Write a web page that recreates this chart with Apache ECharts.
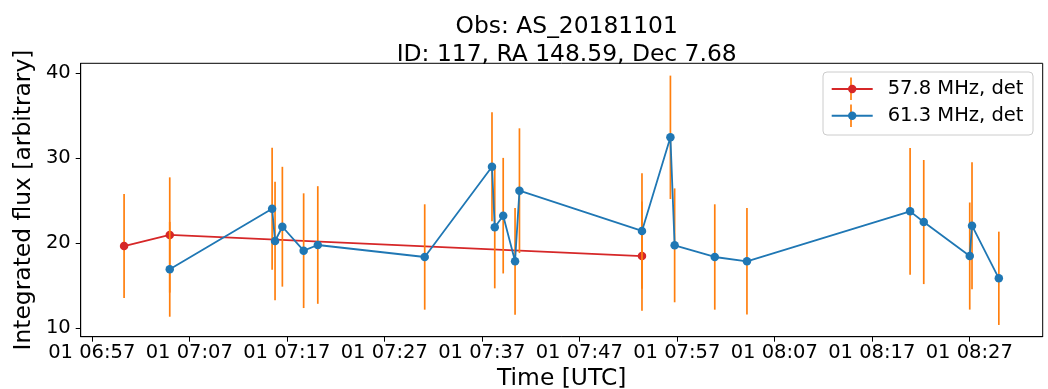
<!DOCTYPE html>
<html>
<head>
<meta charset="utf-8">
<style>
  html, body { margin: 0; padding: 0; background: #fff; }
  #chart { width: 1048px; height: 389px; }
</style>
<script src="https://cdn.jsdelivr.net/npm/echarts@6/dist/echarts.min.js"></script>
</head>
<body>
<div id="chart"></div>
<script>
// Light curve of source 117 in observation AS_20181101 (UTC, 2018-11-01)
const obsDate = [2018, 10, 1];

// 57.8 MHz detections
const timesA = ["07:00:19", "07:05:00", "07:53:26"];
const fluxA  = [19.68, 20.98, 18.50];
const errA   = [6.12, 6.78, 6.43];

// 61.3 MHz detections
const timesB = ["07:05:00", "07:15:30", "07:15:48", "07:16:33", "07:18:44", "07:20:11",
                "07:31:09", "07:38:03", "07:38:20", "07:39:12", "07:40:25", "07:40:52",
                "07:53:26", "07:56:21", "07:56:47", "08:00:54", "08:04:12", "08:20:56",
                "08:22:20", "08:27:03", "08:27:17", "08:30:02"];
const fluxB  = [16.94, 24.07, 20.27, 21.95, 19.13, 19.80,
                18.39, 29.01, 21.88, 23.25, 17.88, 26.19,
                21.45, 32.47, 19.76, 18.39, 17.88, 23.76,
                22.50, 18.50, 22.07, 15.88];
const errB   = [5.58, 7.18, 6.96, 7.05, 6.75, 6.92,
                6.20, 6.41, 7.18, 6.80, 6.28, 7.34,
                6.79, 7.26, 6.70, 6.20, 6.27, 7.45,
                7.30, 6.30, 7.47, 5.49];

const seriesNames = ["57.8 MHz, det", "61.3 MHz, det"];

// Axis ticks and view range
const xTickTimes = ["06:57", "07:07", "07:17", "07:27", "07:37", "07:47", "07:57", "08:07", "08:17", "08:27"];
const yTicks = [10, 20, 30, 40];
const xRange = ["06:55:52", "08:34:32"];
const yRange = [9.01, 41.18];

function toMs(hms) {
  const p = hms.split(":").map(Number);
  return Date.UTC(obsDate[0], obsDate[1], obsDate[2], p[0], p[1], p[2] || 0);
}
function pad(n) { return String(n).padStart(2, "0"); }
function fmtTick(v) {
  const d = new Date(v);
  return pad(d.getUTCDate()) + " " + pad(d.getUTCHours()) + ":" + pad(d.getUTCMinutes());
}

const FONT = "DejaVu Sans";
const RED = "#d62728", BLUE = "#1f77b4", ORANGE = "#ff7f0e";

function lineData(times, flux) { return times.map((t, i) => [toMs(t), flux[i]]); }
function errData(times, flux, err) { return times.map((t, i) => [toMs(t), flux[i] - err[i], flux[i] + err[i]]); }

function errorSeries(times, flux, err, z) {
  return {
    type: "custom",
    z: z,
    silent: true,
    encode: { x: 0, y: [1, 2] },
    data: errData(times, flux, err),
    renderItem: function (params, api) {
      const lo = api.coord([api.value(0), api.value(1)]);
      const hi = api.coord([api.value(0), api.value(2)]);
      return {
        type: "line",
        shape: { x1: lo[0], y1: lo[1], x2: hi[0], y2: hi[1] },
        style: { stroke: ORANGE, lineWidth: 1.7 }
      };
    }
  };
}

function lineSeries(name, times, flux, color, z) {
  return {
    name: name,
    type: "line",
    z: z,
    data: lineData(times, flux),
    symbol: "circle",
    symbolSize: 8.5,
    showAllSymbol: true,
    animation: false,
    lineStyle: { color: color, width: 1.8 },
    itemStyle: { color: color },
    emphasis: { disabled: true }
  };
}

// Legend box: frame and error-bar ticks sit beneath the legend icons
const legendBox = { x: 823, y: 72, w: 210, h: 63 };
const legendIconX = 851;

const chart = echarts.init(document.getElementById("chart"), null, { renderer: "canvas" });

chart.setOption({
  animation: false,
  backgroundColor: "#ffffff",
  textStyle: { fontFamily: FONT },
  title: {
    text: "Obs: AS_20181101\nID: 117, RA 148.59, Dec 7.68",
    left: 561.7,
    top: 8,
    textAlign: "center",
    textStyle: { fontFamily: FONT, fontSize: 23.4, fontWeight: "normal", color: "#000", lineHeight: 28 }
  },
  grid: {
    left: 80.7, right: 5.3, top: 63.3, bottom: 52.3,
    outerBoundsMode: "none",
    containLabel: false,
    show: true, borderColor: "#000", borderWidth: 1, backgroundColor: "transparent"
  },
  legend: {
    data: seriesNames,
    orient: "vertical",
    left: 823,
    top: 71,
    padding: [8, 10, 8, 7.7],
    itemWidth: 41,
    itemHeight: 10.5,
    itemGap: 6.7,
    backgroundColor: "transparent",
    borderWidth: 0,
    z: 20,
    selectedMode: false,
    textStyle: { fontFamily: FONT, fontSize: 19.5, color: "#000", lineHeight: 20, padding: [0, 0, 0, 10] }
  },
  graphic: [
    {
      type: "rect", z: 15,
      shape: { x: legendBox.x, y: legendBox.y, width: legendBox.w, height: legendBox.h, r: 4 },
      style: { fill: "rgba(255,255,255,0.8)", stroke: "#cccccc", lineWidth: 1 }
    },
    { type: "line", z: 16, shape: { x1: legendIconX, y1: 77.5, x2: legendIconX, y2: 100 }, style: { stroke: ORANGE, lineWidth: 1.7 } },
    { type: "line", z: 16, shape: { x1: legendIconX, y1: 104.5, x2: legendIconX, y2: 127 }, style: { stroke: ORANGE, lineWidth: 1.7 } }
  ],
  xAxis: {
    type: "value",
    min: toMs(xRange[0]),
    max: toMs(xRange[1]),
    name: "Time [UTC]",
    nameLocation: "middle",
    nameGap: 27,
    nameTextStyle: { fontFamily: FONT, fontSize: 23.4, color: "#000" },
    axisLine: { show: true, onZero: false, lineStyle: { color: "#000", width: 1 } },
    axisTick: { show: true, length: 5, lineStyle: { color: "#000", width: 1 }, customValues: xTickTimes.map(toMs) },
    axisLabel: {
      show: true, margin: 6, fontFamily: FONT, fontSize: 19.5, color: "#000",
      customValues: xTickTimes.map(toMs), formatter: fmtTick
    },
    splitLine: { show: false }
  },
  yAxis: {
    type: "value",
    min: yRange[0],
    max: yRange[1],
    name: "Integrated flux [arbitrary]",
    nameLocation: "middle",
    nameGap: 38,
    nameTextStyle: { fontFamily: FONT, fontSize: 23.4, color: "#000" },
    axisLine: { show: true, onZero: false, lineStyle: { color: "#000", width: 1 } },
    axisTick: { show: true, length: 5, lineStyle: { color: "#000", width: 1 }, customValues: yTicks },
    axisLabel: { show: true, margin: 10, fontFamily: FONT, fontSize: 19.5, color: "#000", customValues: yTicks },
    splitLine: { show: false }
  },
  series: [
    errorSeries(timesA, fluxA, errA, 2),
    lineSeries(seriesNames[0], timesA, fluxA, RED, 3),
    errorSeries(timesB, fluxB, errB, 4),
    lineSeries(seriesNames[1], timesB, fluxB, BLUE, 5)
  ]
});
</script>
</body>
</html>
